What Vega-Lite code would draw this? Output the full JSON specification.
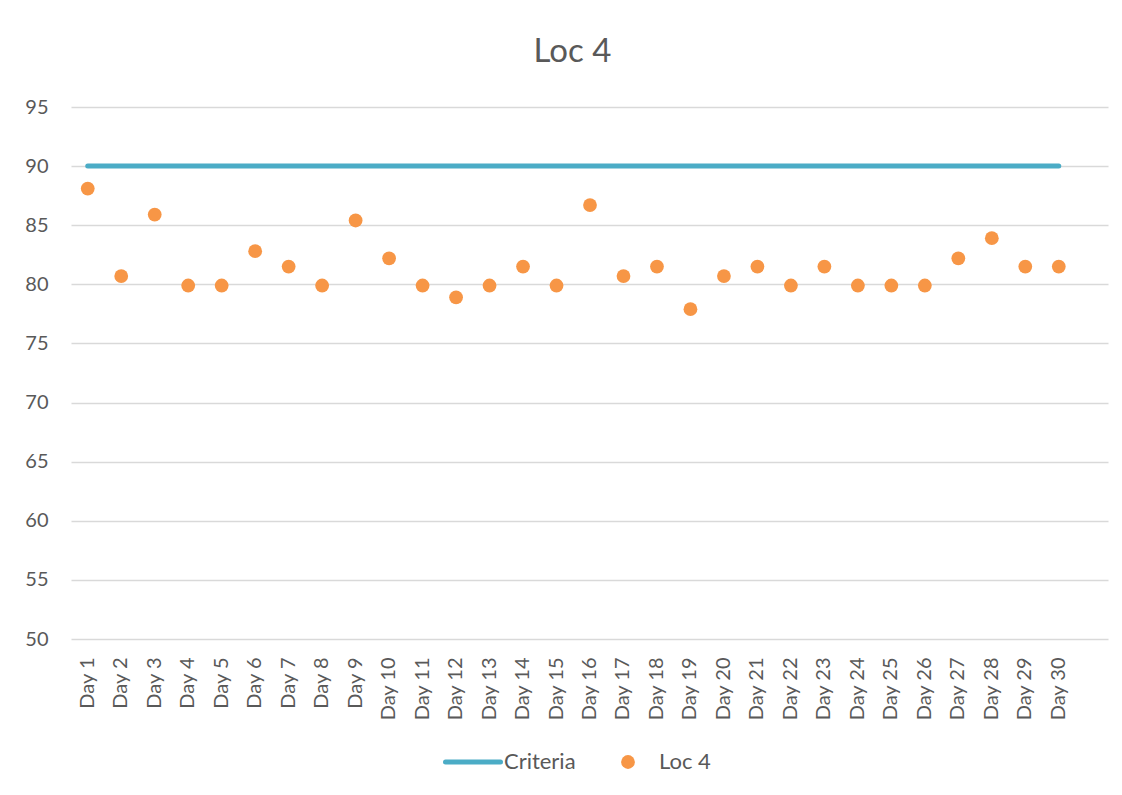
{
  "$schema": "https://vega.github.io/schema/vega-lite/v6.json",
  "width": 1037,
  "height": 532,
  "autosize": {"type": "none"},
  "padding": {"left": 71, "top": 107, "right": 14, "bottom": 156},
  "background": "white",
  "title": {"text": "Loc 4", "fontSize": 33, "font": "Lato", "fontWeight": "normal", "color": "#595959", "anchor": "middle", "dx": -17, "offset": 28},
  "data": {"values": [
    {"day": "Day 1", "loc4": 88.1, "criteria": 90},
    {"day": "Day 2", "loc4": 80.7, "criteria": 90},
    {"day": "Day 3", "loc4": 85.9, "criteria": 90},
    {"day": "Day 4", "loc4": 79.9, "criteria": 90},
    {"day": "Day 5", "loc4": 79.9, "criteria": 90},
    {"day": "Day 6", "loc4": 82.8, "criteria": 90},
    {"day": "Day 7", "loc4": 81.5, "criteria": 90},
    {"day": "Day 8", "loc4": 79.9, "criteria": 90},
    {"day": "Day 9", "loc4": 85.4, "criteria": 90},
    {"day": "Day 10", "loc4": 82.2, "criteria": 90},
    {"day": "Day 11", "loc4": 79.9, "criteria": 90},
    {"day": "Day 12", "loc4": 78.9, "criteria": 90},
    {"day": "Day 13", "loc4": 79.9, "criteria": 90},
    {"day": "Day 14", "loc4": 81.5, "criteria": 90},
    {"day": "Day 15", "loc4": 79.9, "criteria": 90},
    {"day": "Day 16", "loc4": 86.7, "criteria": 90},
    {"day": "Day 17", "loc4": 80.7, "criteria": 90},
    {"day": "Day 18", "loc4": 81.5, "criteria": 90},
    {"day": "Day 19", "loc4": 77.9, "criteria": 90},
    {"day": "Day 20", "loc4": 80.7, "criteria": 90},
    {"day": "Day 21", "loc4": 81.5, "criteria": 90},
    {"day": "Day 22", "loc4": 79.9, "criteria": 90},
    {"day": "Day 23", "loc4": 81.5, "criteria": 90},
    {"day": "Day 24", "loc4": 79.9, "criteria": 90},
    {"day": "Day 25", "loc4": 79.9, "criteria": 90},
    {"day": "Day 26", "loc4": 79.9, "criteria": 90},
    {"day": "Day 27", "loc4": 82.2, "criteria": 90},
    {"day": "Day 28", "loc4": 83.9, "criteria": 90},
    {"day": "Day 29", "loc4": 81.5, "criteria": 90},
    {"day": "Day 30", "loc4": 81.5, "criteria": 90}
  ]},
  "encoding": {
    "x": {
      "field": "day", "type": "nominal", "sort": null, "title": null,
      "scale": {"type": "band", "paddingInner": 0, "paddingOuter": 0.485, "align": 0},
      "axis": {"labelAngle": -90, "labelFontSize": 20, "labelFont": "Lato", "labelColor": "#595959", "domain": false, "ticks": false, "labelPadding": 18, "grid": false}
    }
  },
  "layer": [
    {
      "mark": {"type": "line", "strokeWidth": 5, "strokeCap": "round"},
      "encoding": {
        "y": {"field": "criteria", "type": "quantitative", "title": null,
          "scale": {"domain": [50, 95], "nice": false, "zero": false},
          "axis": {"values": [50, 55, 60, 65, 70, 75, 80, 85, 90, 95], "labelFontSize": 20, "labelFont": "Lato", "labelColor": "#595959", "domain": false, "ticks": false, "labelPadding": 23, "grid": true, "gridColor": "#D9D9D9", "gridWidth": 1.3}},
        "color": {"datum": "Criteria", "type": "nominal",
          "scale": {"domain": ["Criteria", "Loc 4"], "range": ["#4BACC6", "#F79646"]},
          "legend": {"title": null, "orient": "none", "legendX": 391, "legendY": 644, "padding": 0, "direction": "horizontal", "symbolType": "circle", "labelFontSize": 22, "labelFont": "Lato", "labelColor": "#595959", "labelOffset": 20, "columnPadding": 41,
            "encode": {"symbols": {"update": {
              "shape": {"signal": "datum.value === 'Criteria' ? 'stroke' : 'circle'"},
              "size": {"signal": "datum.value === 'Criteria' ? 3025 : 190"},
              "strokeWidth": {"signal": "datum.value === 'Criteria' ? 5 : 0"},
              "stroke": {"signal": "datum.value === 'Criteria' ? '#4BACC6' : 'transparent'"},
              "fill": {"signal": "datum.value === 'Criteria' ? 'transparent' : '#F79646'"},
              "opacity": {"value": 1},
              "strokeCap": {"value": "round"}
            }}}}}
      }
    },
    {
      "mark": {"type": "point", "filled": true, "opacity": 1, "size": 190},
      "encoding": {
        "y": {"field": "loc4", "type": "quantitative"},
        "color": {"datum": "Loc 4", "type": "nominal"}
      }
    }
  ],
  "config": {"view": {"stroke": null}}
}
